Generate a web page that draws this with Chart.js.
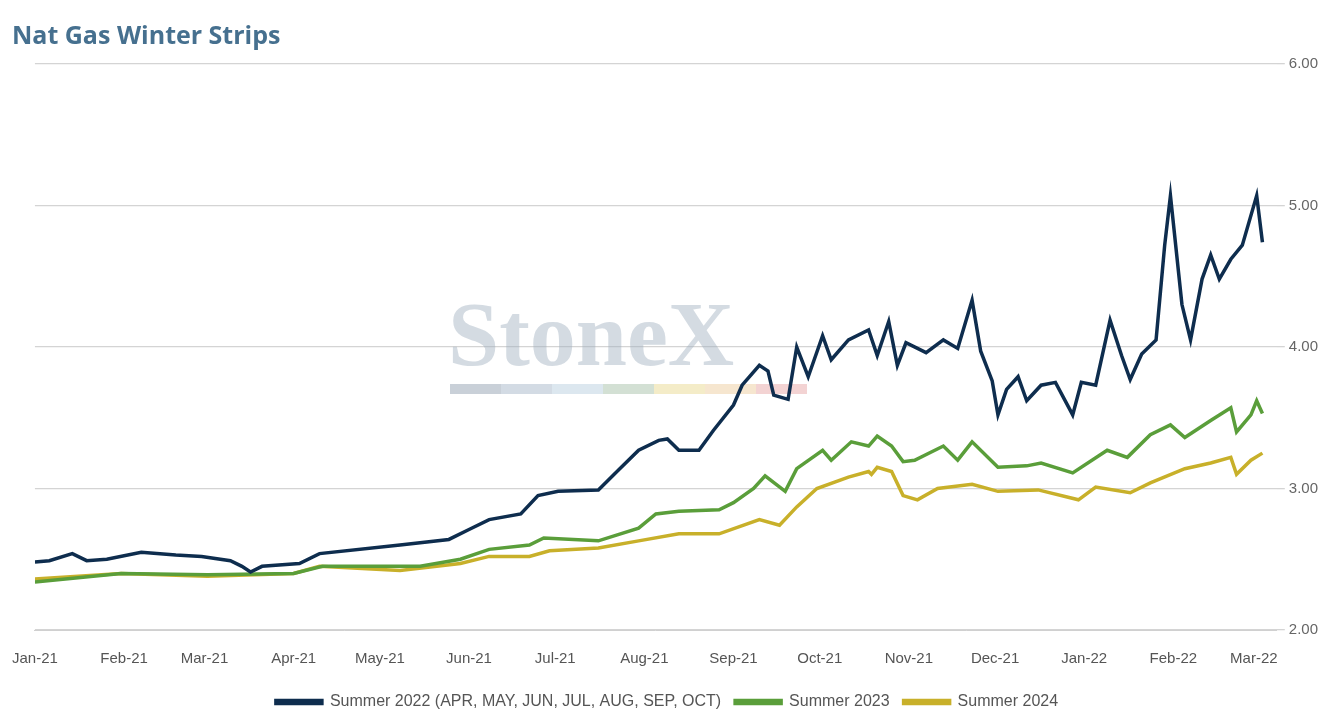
<!DOCTYPE html>
<html>
<head>
<meta charset="utf-8">
<script src="https://cdn.jsdelivr.net/npm/chart.js@4.4.0/dist/chart.umd.min.js"></script>
<style>
  body { margin: 0; background: #fff; }
  #wrap { width: 1344px; height: 722px; }
</style>
</head>
<body>
<div id="wrap"><canvas id="c"></canvas></div>
<script>
// days since 1 Jan 2021
const monthDays = [0, 31, 59, 90, 120, 151, 181, 212, 243, 273, 304, 334, 365, 396, 424];
const monthLabels = ['Jan-21', 'Feb-21', 'Mar-21', 'Apr-21', 'May-21', 'Jun-21', 'Jul-21', 'Aug-21',
  'Sep-21', 'Oct-21', 'Nov-21', 'Dec-21', 'Jan-22', 'Feb-22', 'Mar-22'];

const days22 = [0, 5, 13, 18, 25, 37, 49, 58, 68, 72, 75, 79, 92, 99, 127, 144, 151, 158, 169, 175, 182, 196, 203,
  210, 217, 220, 224, 231, 236, 243, 246, 252, 255, 257, 262, 265, 269, 274, 277, 283, 290, 293, 297,
  300, 303, 310, 316, 321, 326, 329, 333, 335, 338, 342, 345, 350, 355, 361, 364, 369, 374, 378, 381,
  385, 390, 393, 395, 399, 402, 406, 409, 412, 416, 420, 425, 427];
const summer22 = [2.48, 2.49, 2.54, 2.49, 2.50, 2.55, 2.53, 2.52, 2.49, 2.45, 2.41, 2.45, 2.47, 2.54, 2.60, 2.64, 2.71, 2.78,
  2.82, 2.95, 2.98, 2.99, 3.13, 3.27, 3.34, 3.35, 3.27, 3.27, 3.41, 3.59, 3.73, 3.87, 3.83, 3.66, 3.63,
  4.00, 3.79, 4.08, 3.91, 4.05, 4.12, 3.94, 4.18, 3.87, 4.03, 3.96, 4.05, 3.99, 4.33, 3.97, 3.76, 3.52,
  3.70, 3.79, 3.62, 3.73, 3.75, 3.52, 3.75, 3.73, 4.19, 3.94, 3.77, 3.95, 4.05, 4.72, 5.07, 4.30, 4.05,
  4.48, 4.65, 4.48, 4.62, 4.72, 5.07, 4.74];

const days23 = [0, 30, 60, 90, 100, 134, 148, 158, 172, 177, 196, 210, 216, 224, 238, 243, 250, 254, 261,
  265, 274, 277, 284, 290, 293, 298, 302, 306, 316, 321, 326, 335, 345, 350, 361, 373, 380, 388, 395,
  400, 409, 416, 418, 423, 425, 427];
const summer23 = [2.34, 2.40, 2.39, 2.40, 2.45, 2.45, 2.50, 2.57, 2.60, 2.65, 2.63, 2.72, 2.82, 2.84, 2.85,
  2.90, 3.00, 3.09, 2.98, 3.14, 3.27, 3.20, 3.33, 3.30, 3.37, 3.30, 3.19, 3.20, 3.30, 3.20, 3.33, 3.15,
  3.16, 3.18, 3.11, 3.27, 3.22, 3.38, 3.45, 3.36, 3.48, 3.57, 3.40, 3.52, 3.62, 3.53];

const days24 = [0, 30, 60, 90, 99, 127, 148, 158, 172, 179, 196, 210, 224, 238, 252, 259, 265, 272, 283,
  290, 291, 293, 298, 302, 307, 314, 326, 335, 349, 363, 369, 381, 388, 400, 409, 416, 418, 423, 427];
const summer24 = [2.36, 2.40, 2.38, 2.40, 2.45, 2.42, 2.47, 2.52, 2.52, 2.56, 2.58, 2.63, 2.68, 2.68, 2.78,
  2.74, 2.87, 3.00, 3.08, 3.12, 3.10, 3.15, 3.12, 2.95, 2.92, 3.00, 3.03, 2.98, 2.99, 2.92, 3.01, 2.97,
  3.04, 3.14, 3.18, 3.22, 3.10, 3.20, 3.25];

const yTicks = [2, 3, 4, 5, 6];

function pts(xs, ys) {
  return xs.map((d, i) => ({ x: d, y: ys[i] }));
}

// StoneX watermark
const watermark = {
  id: 'watermark',
  beforeDatasetsDraw(chart) {
    const ctx = chart.ctx;
    ctx.save();
    ctx.font = 'bold 92px "Liberation Serif", serif';
    ctx.fillStyle = 'rgba(160,175,190,0.45)';
    ctx.textBaseline = 'alphabetic';
    ctx.fillText('StoneX', 448, 365);
    const cols = ['#c9d0d8', '#d3dbe4', '#dce7ef', '#d3e0d4', '#f4ecc8', '#f6e6cf', '#f3d3d3'];
    for (let i = 0; i < cols.length; i++) {
      ctx.fillStyle = cols[i];
      ctx.fillRect(450 + i * 51, 384, 51, 10);
    }
    ctx.restore();
  }
};

const chartBox = document.getElementById('c');
new Chart(chartBox, {
  type: 'line',
  data: {
    datasets: [
      { label: 'Summer 2022 (APR, MAY, JUN, JUL, AUG, SEP, OCT)', data: pts(days22, summer22),
        borderColor: '#0e2d4e', backgroundColor: '#0e2d4e', borderWidth: 3.5 },
      { label: 'Summer 2023', data: pts(days23, summer23),
        borderColor: '#5a9e3a', backgroundColor: '#5a9e3a', borderWidth: 3.5 },
      { label: 'Summer 2024', data: pts(days24, summer24),
        borderColor: '#c8b02a', backgroundColor: '#c8b02a', borderWidth: 3.5 }
    ]
  },
  options: {
    responsive: true,
    maintainAspectRatio: false,
    animation: false,
    elements: { point: { radius: 0 }, line: { tension: 0 } },
    layout: { padding: { left: 12, right: 22, top: 6, bottom: 2 } },
    plugins: {
      title: {
        display: true, text: 'Nat Gas Winter Strips', align: 'start', color: '#46708f',
        font: { family: 'Open Sans', size: 25, weight: 'bold' }, padding: { top: 16, bottom: 12 }
      },
      legend: {
        position: 'bottom',
        labels: {
          boxWidth: 46, boxHeight: 3, color: '#555', padding: 14,
          font: { family: 'Liberation Sans', size: 16 }
        }
      },
      tooltip: { enabled: false }
    },
    scales: {
      x: {
        type: 'linear', min: 0, max: 432,
        afterBuildTicks(axis) { axis.ticks = monthDays.map(v => ({ value: v })); },
        ticks: {
          color: '#555', font: { family: 'Liberation Sans', size: 15 }, maxRotation: 0, padding: 12,
          callback(v) { return monthLabels[monthDays.indexOf(v)]; }
        },
        grid: { display: false },
        border: { color: '#d0d0d0' }
      },
      y: {
        position: 'right', min: 2, max: 6,
        afterBuildTicks(axis) { axis.ticks = yTicks.map(v => ({ value: v })); },
        ticks: { color: '#666', font: { family: 'Liberation Sans', size: 15 }, padding: 4,
          callback: v => v.toFixed(2) },
        grid: { color: '#d4d4d4', lineWidth: 1.3 },
        border: { display: false }
      }
    }
  },
  plugins: [watermark]
});
</script>
</body>
</html>
